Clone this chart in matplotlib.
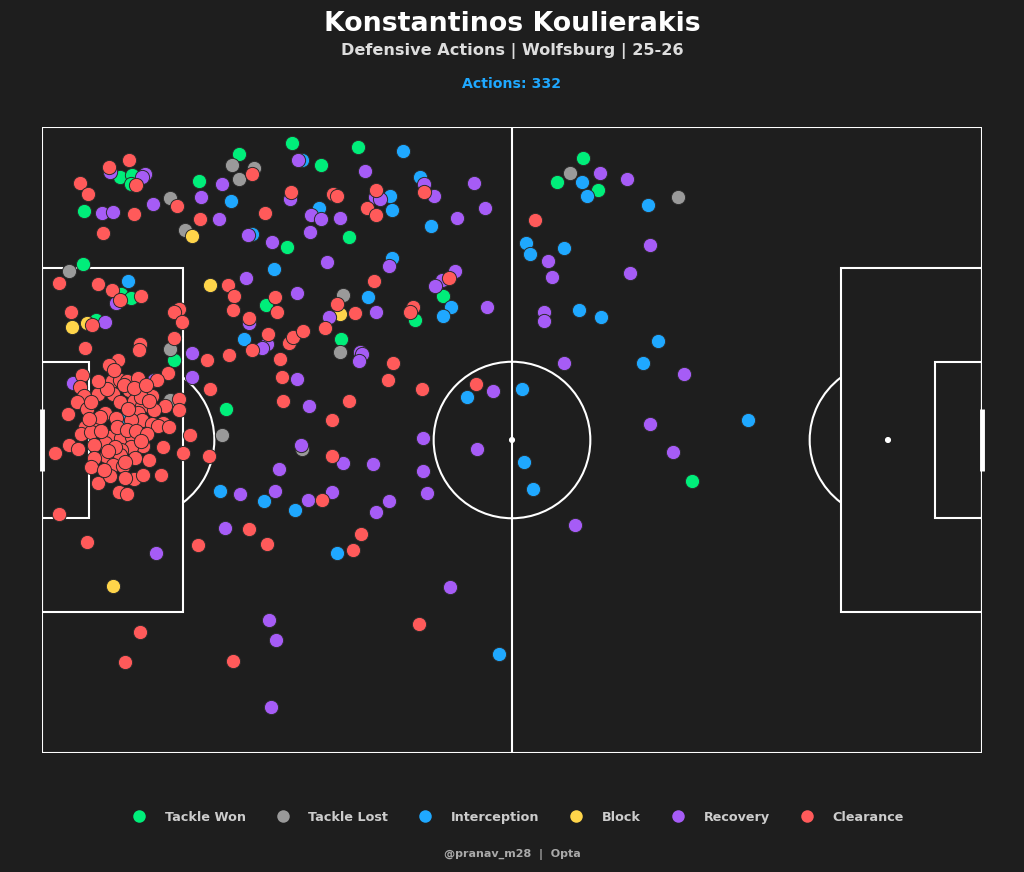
import matplotlib.pyplot as plt
from matplotlib.patches import Rectangle, Arc, Circle
from matplotlib.lines import Line2D

# Dados (coordenadas do campo 120 x 80, y de cima para baixo)
tackle_won_x = [9.9, 11.5, 11.3, 5.3, 20.1, 25.1, 31.3, 28.6, 5.2, 10.1, 11.3, 6.9, 16.8, 38.2, 47.6,
                23.5, 31.9, 35.6, 40.4, 39.2, 51.2, 69.1, 65.8, 71.0, 83.0]
tackle_won_y = [6.4, 6.1, 7.3, 10.7, 6.9, 3.4, 15.3, 22.7, 17.5, 21.3, 21.8, 24.7, 29.8, 27.1, 24.7,
                36.0, 2.1, 4.8, 2.6, 14.1, 21.6, 3.9, 7.0, 8.1, 45.3]

tackle_lost_x = [16.4, 24.3, 27.1, 25.1, 18.2, 3.4, 16.4, 16.4, 38.0, 23.0, 33.2, 38.4, 67.4, 81.2]
tackle_lost_y = [9.1, 4.8, 5.2, 6.6, 13.1, 18.4, 28.4, 34.9, 28.7, 39.4, 41.1, 21.5, 5.9, 8.9]

interception_x = [24.1, 26.8, 29.6, 11.0, 10.2, 28.4, 32.3, 37.6, 58.4, 25.8, 22.7, 33.2, 46.1, 48.3,
                  49.7, 44.4, 44.7, 35.3, 44.7, 41.6, 52.2, 51.2, 68.6, 71.3, 78.7, 76.7, 54.3, 61.3,
                  61.5, 62.7, 68.9, 69.6, 77.4, 61.8, 62.3, 66.7, 90.1]
interception_y = [9.5, 13.7, 18.1, 19.7, 37.5, 47.8, 48.9, 54.4, 67.4, 27.1, 46.5, 4.2, 3.1, 6.4,
                  12.6, 8.8, 10.6, 10.3, 16.8, 21.7, 23.0, 24.1, 23.4, 24.3, 27.4, 30.1, 34.5, 33.5,
                  42.8, 46.2, 7.0, 8.8, 10.0, 14.8, 16.2, 15.4, 37.4]

block_x = [19.1, 21.5, 3.8, 5.7, 9.0, 38.1]
block_y = [13.9, 20.2, 25.5, 25.0, 58.7, 23.9]

recovery_x = [8.7, 13.1, 12.8, 7.7, 9.0, 14.2, 20.3, 23.0, 22.6, 26.3, 29.3, 26.1, 26.4, 9.5, 8.0,
              19.1, 19.1, 4.0, 14.3, 14.6, 23.3, 25.3, 33.9, 42.6, 44.3, 52.1, 29.0, 29.9, 29.2,
              28.7, 28.1, 40.6, 40.8, 40.5, 32.5, 34.1, 33.0, 38.4, 42.2, 48.6, 48.6, 49.1, 30.3,
              29.7, 37.0, 32.7, 41.2, 48.8, 50.0, 55.2, 56.6, 53.0, 31.6, 42.5, 43.1, 34.4, 35.6,
              38.0, 34.2, 36.4, 44.3, 32.6, 36.6, 42.7, 52.7, 51.0, 50.2, 56.8, 65.1, 75.0, 64.1,
              64.1, 82.0, 66.7, 57.6, 55.5, 77.6, 80.5, 68.0, 71.2, 74.7, 77.6, 64.6]
recovery_y = [5.8, 6.0, 6.4, 11.0, 10.9, 9.8, 8.9, 7.3, 11.7, 13.8, 14.7, 19.3, 25.1, 22.5, 24.9,
              28.9, 31.9, 32.7, 32.3, 54.4, 51.2, 46.9, 47.7, 49.2, 47.8, 58.8, 63.0, 65.5, 74.1,
              27.7, 28.3, 28.7, 29.0, 29.9, 32.2, 35.7, 40.6, 43.0, 43.1, 39.7, 44.0, 46.8, 43.7,
              46.5, 46.6, 4.2, 5.6, 7.3, 8.8, 7.2, 10.4, 11.6, 9.2, 8.9, 9.2, 11.3, 11.7,
              11.6, 13.4, 17.3, 17.8, 21.2, 24.3, 23.6, 18.4, 19.6, 20.3, 23.0, 19.2, 18.7, 23.7,
              24.8, 31.6, 30.1, 33.7, 41.1, 38.0, 41.5, 50.9, 5.9, 6.6, 15.1, 17.1]

clearance_x = [11.1, 8.6, 12.0, 4.8, 5.9, 11.7, 7.8, 17.2, 26.8, 20.2, 28.5, 23.7, 24.5, 24.4, 26.4,
               29.8, 30.0, 2.2, 7.2, 8.9, 12.6, 9.9, 3.7, 6.4, 17.5, 16.8, 17.9, 5.5, 12.5, 12.4,
               16.8, 9.7, 8.6, 5.1, 16.1, 21.0, 21.5, 4.9, 5.3, 4.5, 5.7, 3.3, 7.2, 8.9, 9.9,
               10.9, 12.3, 14.7, 11.1, 9.0, 9.9, 11.8, 12.8, 14.0, 17.5, 15.7, 17.5, 8.1, 12.3, 9.4,
               12.8, 14.0, 15.4, 14.8, 6.9, 5.5, 5.0, 6.2, 8.7, 10.1, 11.5, 8.1, 6.7, 3.4, 4.6,
               1.7, 12.9, 11.3, 10.1, 15.5, 18.9, 18.0, 21.3, 8.2, 10.0, 6.7, 6.3, 9.0, 10.3, 11.7,
               12.9, 15.2, 7.2, 9.8, 10.9, 2.2, 12.7, 11.4, 5.7, 19.9, 26.4, 28.7, 35.7, 40.7, 39.7,
               48.1, 12.5, 10.6, 24.4, 28.8, 26.8, 23.9, 30.4, 31.5, 32.1, 33.3, 36.1, 44.8, 44.2,
               48.5, 30.7, 30.8, 39.2, 37.0, 37.0, 31.8, 37.1, 37.7, 42.7, 41.5, 42.7, 42.4, 37.7,
               40.0, 47.3, 47.0, 52.0, 48.8, 55.4, 62.9,
               10.5, 11.8, 8.3, 13.3, 9.6, 10.8, 12.0, 7.5, 9.3, 11.9, 8.7, 10.6, 7.9, 13.4,
               14.3, 6.3, 7.1, 13.6, 16.2, 9.2, 11.0, 12.6, 8.4, 10.6, 7.4, 13.7, 6.0]
clearance_y = [4.2, 5.1, 7.4, 7.1, 8.6, 11.1, 13.5, 10.1, 6.0, 11.8, 11.0, 20.2, 21.6, 23.4, 24.4,
               21.7, 23.7, 19.9, 20.1, 20.8, 21.6, 22.1, 23.6, 25.3, 23.2, 23.7, 24.9, 28.2, 27.7, 28.5,
               27.0, 29.8, 30.4, 31.7, 31.5, 29.8, 33.5, 33.2, 34.4, 35.1, 36.1, 36.7, 34.1, 32.4, 32.3,
               32.5, 32.1, 32.3, 33.6, 34.1, 35.2, 35.0, 35.7, 34.4, 34.7, 35.7, 36.2, 36.5, 36.6, 37.2,
               37.4, 38.0, 37.8, 38.2, 37.9, 38.3, 39.2, 39.0, 39.6, 39.8, 39.6, 40.4, 40.6, 40.6, 41.1,
               41.6, 40.8, 40.9, 41.3, 40.9, 39.4, 41.6, 42.1, 42.1, 41.9, 42.3, 43.4, 43.2, 43.3, 45.0,
               44.5, 44.5, 45.5, 46.7, 46.9, 49.5, 34.5, 37.5, 53.0, 53.4, 51.4, 53.3, 47.7, 52.0, 54.1,
               63.5, 64.6, 68.4, 68.2, 26.5, 28.5, 29.1, 29.6, 27.6, 26.8, 26.1, 25.7, 30.1, 32.3,
               33.5, 31.9, 35.0, 35.0, 37.4, 42.0, 8.3, 8.5, 8.8, 8.0, 10.4, 11.3, 19.7, 22.6,
               23.8, 23.0, 23.7, 19.3, 8.3, 32.8, 11.9,
               33.0, 33.3, 33.5, 33.0, 38.4, 38.7, 38.9, 38.9, 40.9, 42.3, 44.6, 44.8, 43.8, 39.2,
               36.2, 35.2, 32.4, 42.6, 38.4, 31.0, 36.1, 40.1, 41.4, 42.8, 37.0, 35.0, 37.3]

categorias = ["Tackle Won", "Tackle Lost", "Interception", "Block", "Recovery", "Clearance"]
cores = ["#00ee7a", "#9a9a9a", "#1fa8ff", "#ffd54a", "#a65cf6", "#ff5a5a"]

BG = "#1e1e1e"


def desenhar_campo(ax):
    lc = "white"
    lw = 1.5
    ax.add_patch(Rectangle((0, 0), 120, 80, fill=False, ec=lc, lw=lw, zorder=1))
    ax.plot([60, 60], [0, 80], color=lc, lw=lw, zorder=1)
    ax.add_patch(Circle((60, 40), 10, fill=False, ec=lc, lw=lw, zorder=1))
    ax.add_patch(Circle((60, 40), 0.3, color=lc, zorder=1))
    # areas
    ax.add_patch(Rectangle((0, 18), 18, 44, fill=False, ec=lc, lw=lw, zorder=1))
    ax.add_patch(Rectangle((102, 18), 18, 44, fill=False, ec=lc, lw=lw, zorder=1))
    ax.add_patch(Rectangle((0, 30), 6, 20, fill=False, ec=lc, lw=lw, zorder=1))
    ax.add_patch(Rectangle((114, 30), 6, 20, fill=False, ec=lc, lw=lw, zorder=1))
    ax.add_patch(Circle((12, 40), 0.3, color=lc, zorder=1))
    ax.add_patch(Circle((108, 40), 0.3, color=lc, zorder=1))
    ax.add_patch(Arc((12, 40), 20, 20, theta1=-53, theta2=53, ec=lc, lw=lw, zorder=1))
    ax.add_patch(Arc((108, 40), 20, 20, theta1=127, theta2=233, ec=lc, lw=lw, zorder=1))
    # gols
    ax.plot([0, 0], [36, 44], color=lc, lw=3.5, zorder=1, solid_capstyle="butt", clip_on=False)
    ax.plot([120, 120], [36, 44], color=lc, lw=3.5, zorder=1, solid_capstyle="butt", clip_on=False)


def main():
    fig = plt.figure(figsize=(10.24, 8.72), dpi=100, facecolor=BG)
    ax = fig.add_axes([42 / 1024, 119 / 872, 940 / 1024, 626 / 872])
    ax.set_facecolor(BG)
    ax.set_xlim(0, 120)
    ax.set_ylim(80, 0)
    ax.axis("off")

    desenhar_campo(ax)

    dados = [(tackle_won_x, tackle_won_y), (tackle_lost_x, tackle_lost_y),
             (interception_x, interception_y), (block_x, block_y),
             (recovery_x, recovery_y), (clearance_x, clearance_y)]
    total = 0
    for (xs, ys), cor in zip(dados, cores):
        ax.scatter(xs, ys, s=105, color=cor, edgecolors="#2a2a2a", linewidths=0.7,
                   zorder=3, clip_on=False)
        total += len(xs)

    # titulos
    fig.text(0.5, 1 - 24 / 872, "Konstantinos Koulierakis", ha="center", va="center",
             color="white", fontsize=19.3, fontweight="bold")
    fig.text(0.5, 1 - 51 / 872, "Defensive Actions | Wolfsburg | 25-26", ha="center",
             va="center", color="#dddddd", fontsize=11.6, fontweight="bold")
    fig.text(0.5, 1 - 84 / 872, f"Actions: {total}", ha="center", va="center",
             color="#1fa8ff", fontsize=10.2, fontweight="bold")

    # legenda
    handles = [Line2D([0], [0], marker="o", ls="", markersize=9, markerfacecolor=c,
                      markeredgecolor="none") for c in cores]
    leg = fig.legend(handles, categorias, loc="center", bbox_to_anchor=(0.503, 1 - 817 / 872),
                     ncol=6, frameon=False, columnspacing=1.9, handletextpad=1.0,
                     prop={"weight": "bold", "size": 9.2})
    for t in leg.get_texts():
        t.set_color("#cccccc")

    fig.text(0.5, 1 - 854 / 872, "@pranav_m28  |  Opta", ha="center", va="center",
             color="#aaaaaa", fontsize=8, fontweight="bold")

    fig.savefig("out.png", dpi=100, facecolor=BG)
    plt.close(fig)


if __name__ == "__main__":
    main()
